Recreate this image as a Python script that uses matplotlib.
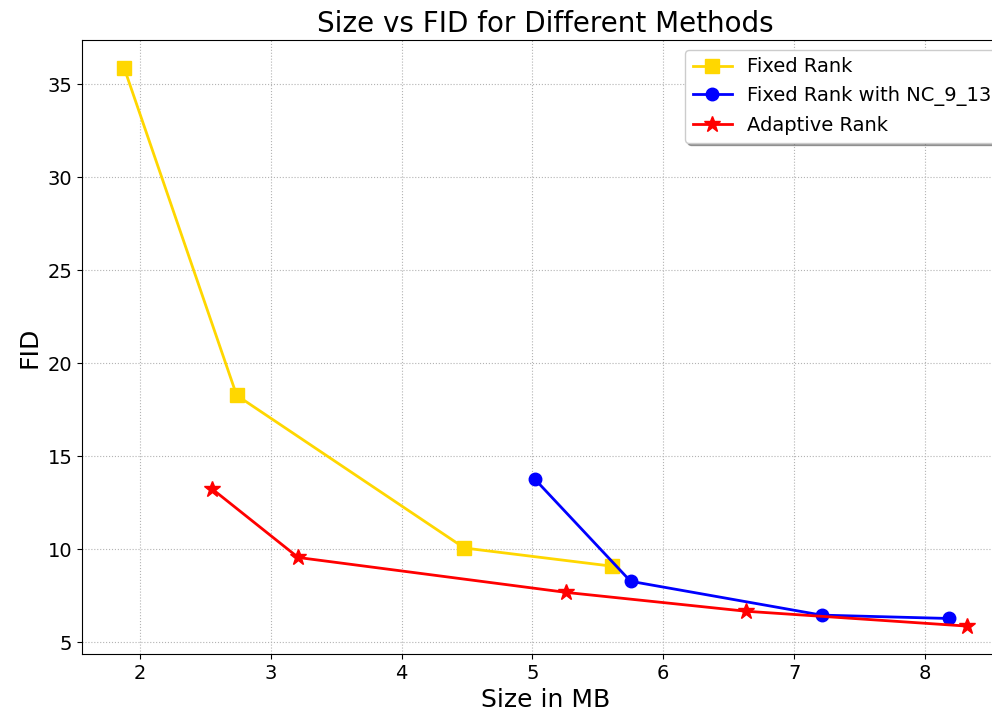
import matplotlib
matplotlib.use("Agg")
import matplotlib.pyplot as plt

# data
fixed_size = [1.88, 2.74, 4.48, 5.61]
fixed_fid = [35.88, 18.27, 10.06, 9.08]

nc_size = [5.02, 5.75, 7.21, 8.18]
nc_fid = [13.75, 8.27, 6.45, 6.27]

adapt_size = [2.55, 3.21, 5.26, 6.63, 8.32]
adapt_fid = [13.25, 9.55, 7.67, 6.66, 5.86]

fig = plt.figure(figsize=(9.92, 7.11), dpi=100)
# right edge of the axes sits past the figure edge, as in the cropped reference
ax = fig.add_axes([82 / 992, 57 / 711, 927 / 992, 614 / 711])

ax.plot(fixed_size, fixed_fid, color="#FFD700", marker="s", ms=10, lw=2,
        label="Fixed Rank")
ax.plot(nc_size, nc_fid, color="blue", marker="o", ms=9, lw=2,
        label="Fixed Rank with NC_9_13")
ax.plot(adapt_size, adapt_fid, color="red", marker="*", ms=12, lw=2,
        label="Adaptive Rank")

ax.set_title("Size vs FID for Different Methods", fontsize=20)
ax.set_xlabel("Size in MB", fontsize=18)
ax.set_ylabel("FID", fontsize=18)
ax.tick_params(labelsize=14)
ax.grid(True, linestyle=":", color="0.7")
ax.legend(loc="upper right", fontsize=14, shadow=True)

fig.savefig("out.png", dpi=100)
